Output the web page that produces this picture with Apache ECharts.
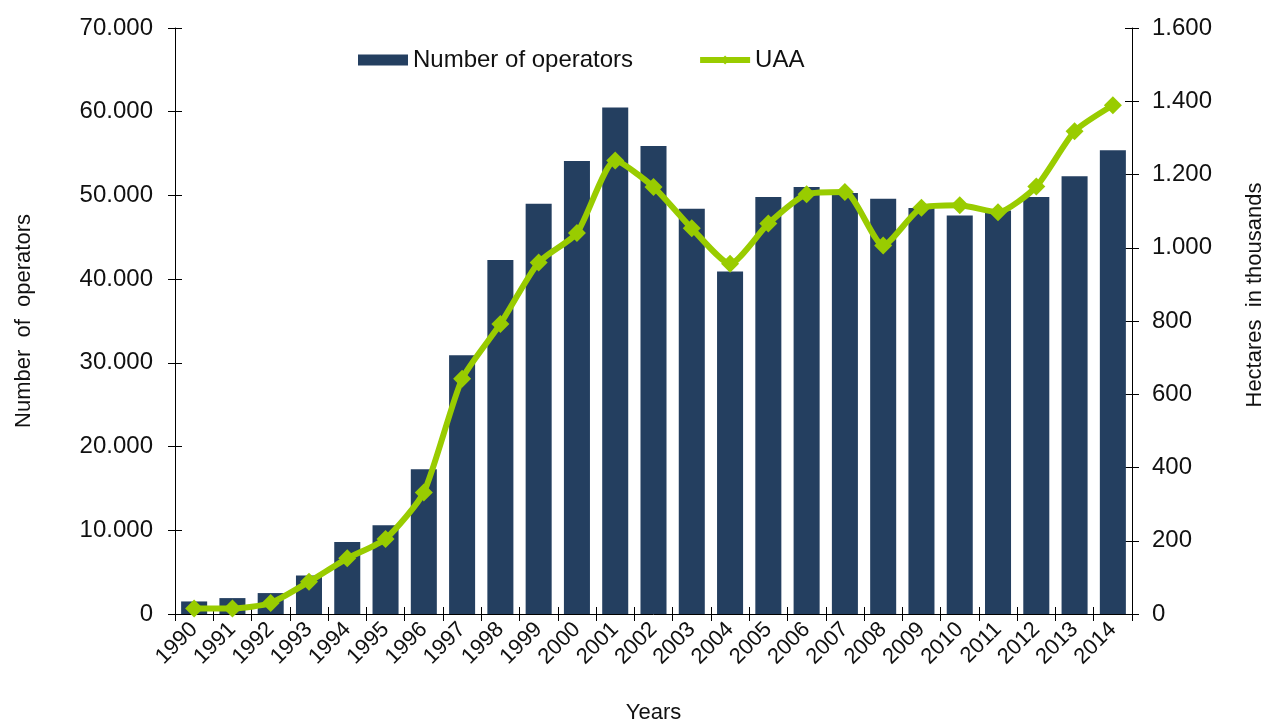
<!DOCTYPE html>
<html>
<head>
<meta charset="utf-8">
<script src="https://cdn.jsdelivr.net/npm/echarts@6/dist/echarts.min.js"></script>
<style>
  html, body { margin: 0; padding: 0; background: #fff; }
  #chart { width: 1267px; height: 722px; }
</style>
</head>
<body>
<div id="chart"></div>
<script>
const years = ['1990', '1991', '1992', '1993', '1994', '1995', '1996', '1997', '1998', '1999',
  '2000', '2001', '2002', '2003', '2004', '2005', '2006', '2007', '2008', '2009',
  '2010', '2011', '2012', '2013', '2014'];
const operators = [1500, 1900, 2500, 4600, 8600, 10600, 17300, 30900, 42300, 49000,
  54100, 60500, 55900, 48400, 40900, 49800, 51000, 50300, 49600, 48500,
  47600, 48200, 49800, 52300, 55400];
const uaa = [15, 15, 30, 88, 152, 205, 332, 642, 792, 960,
  1040, 1238, 1166, 1053, 956, 1066, 1146, 1152, 1006, 1109,
  1116, 1097, 1167, 1318, 1389];

const font = 'Arial, "Liberation Sans", sans-serif';
const fmt = v => String(v).replace(/\B(?=(\d{3})+(?!\d))/g, '.');

const chart = echarts.init(document.getElementById('chart'));

const axisLine = { show: true, lineStyle: { color: '#000', width: 1 } };

chart.setOption({
  animation: false,
  backgroundColor: '#fff',
  textStyle: { fontFamily: font, color: '#111' },
  legend: {
    left: 353,
    top: 43,
    itemWidth: 50,
    itemHeight: 11,
    itemGap: 64,
    itemTextGap: 5,
    textStyle: { fontFamily: font, fontSize: 24, color: '#111' },
    data: [
      { name: 'Number of operators', icon: 'rect' },
      { name: 'UAA', lineStyle: { width: 6 } }
    ]
  },
  grid: { left: 175, right: 135, top: 28, bottom: 108, outerBoundsMode: 'none' },
  xAxis: [
    {
      type: 'category',
      data: years,
      boundaryGap: true,
      position: 'bottom',
      name: 'Years',
      nameLocation: 'middle',
      nameGap: 88,
      nameTextStyle: { fontFamily: font, fontSize: 22, color: '#111' },
      axisLine: axisLine,
      axisTick: { show: true, alignWithLabel: false, length: 7, lineStyle: { color: '#000' } },
      axisLabel: { rotate: 45, fontFamily: font, fontSize: 22, color: '#111', margin: 12, interval: 0 },
      splitLine: { show: false }
    },
    {
      type: 'category',
      data: years,
      position: 'bottom',
      axisLine: { show: false },
      axisTick: { show: true, inside: true, length: 7, lineStyle: { color: '#000' } },
      axisLabel: { show: false },
      splitLine: { show: false }
    }
  ],
  yAxis: [
    {
      type: 'value',
      min: 0,
      max: 70000,
      interval: 10000,
      position: 'left',
      name: 'Number  of  operators',
      nameLocation: 'middle',
      nameGap: 140,
      nameTextStyle: { fontFamily: font, fontSize: 22, color: '#111' },
      axisLine: axisLine,
      axisTick: { show: true, length: 7, lineStyle: { color: '#000' } },
      axisLabel: { fontFamily: font, fontSize: 24, color: '#111', margin: 22, formatter: fmt },
      splitLine: { show: false }
    },
    {
      type: 'value',
      min: 0,
      max: 1600,
      interval: 200,
      position: 'right',
      name: 'Hectares  in thousands',
      nameLocation: 'middle',
      nameGap: 112,
      nameRotate: 90,
      nameTextStyle: { fontFamily: font, fontSize: 22, color: '#111', padding: [0, 0, 0, 52] },
      axisLine: axisLine,
      axisTick: { show: true, length: 7, lineStyle: { color: '#000' } },
      axisLabel: { fontFamily: font, fontSize: 24, color: '#111', margin: 20, formatter: fmt },
      splitLine: { show: false }
    },
    {
      type: 'value',
      min: 0,
      max: 70000,
      interval: 10000,
      position: 'left',
      axisLine: { show: false },
      axisTick: { show: true, inside: true, length: 7, lineStyle: { color: '#000' } },
      axisLabel: { show: false },
      splitLine: { show: false }
    },
    {
      type: 'value',
      min: 0,
      max: 1600,
      interval: 200,
      position: 'right',
      axisLine: { show: false },
      axisTick: { show: true, inside: true, length: 7, lineStyle: { color: '#000' } },
      axisLabel: { show: false },
      splitLine: { show: false }
    }
  ],
  series: [
    {
      name: 'Number of operators',
      type: 'bar',
      xAxisIndex: 0,
      yAxisIndex: 0,
      barCategoryGap: '32%',
      itemStyle: { color: '#243f60' },
      data: operators
    },
    {
      name: 'UAA',
      type: 'line',
      xAxisIndex: 0,
      yAxisIndex: 1,
      smooth: 0.2,
      symbol: 'diamond',
      symbolSize: 18,
      lineStyle: { color: '#99cc00', width: 6 },
      itemStyle: { color: '#99cc00' },
      data: uaa
    }
  ]
});
</script>
</body>
</html>
